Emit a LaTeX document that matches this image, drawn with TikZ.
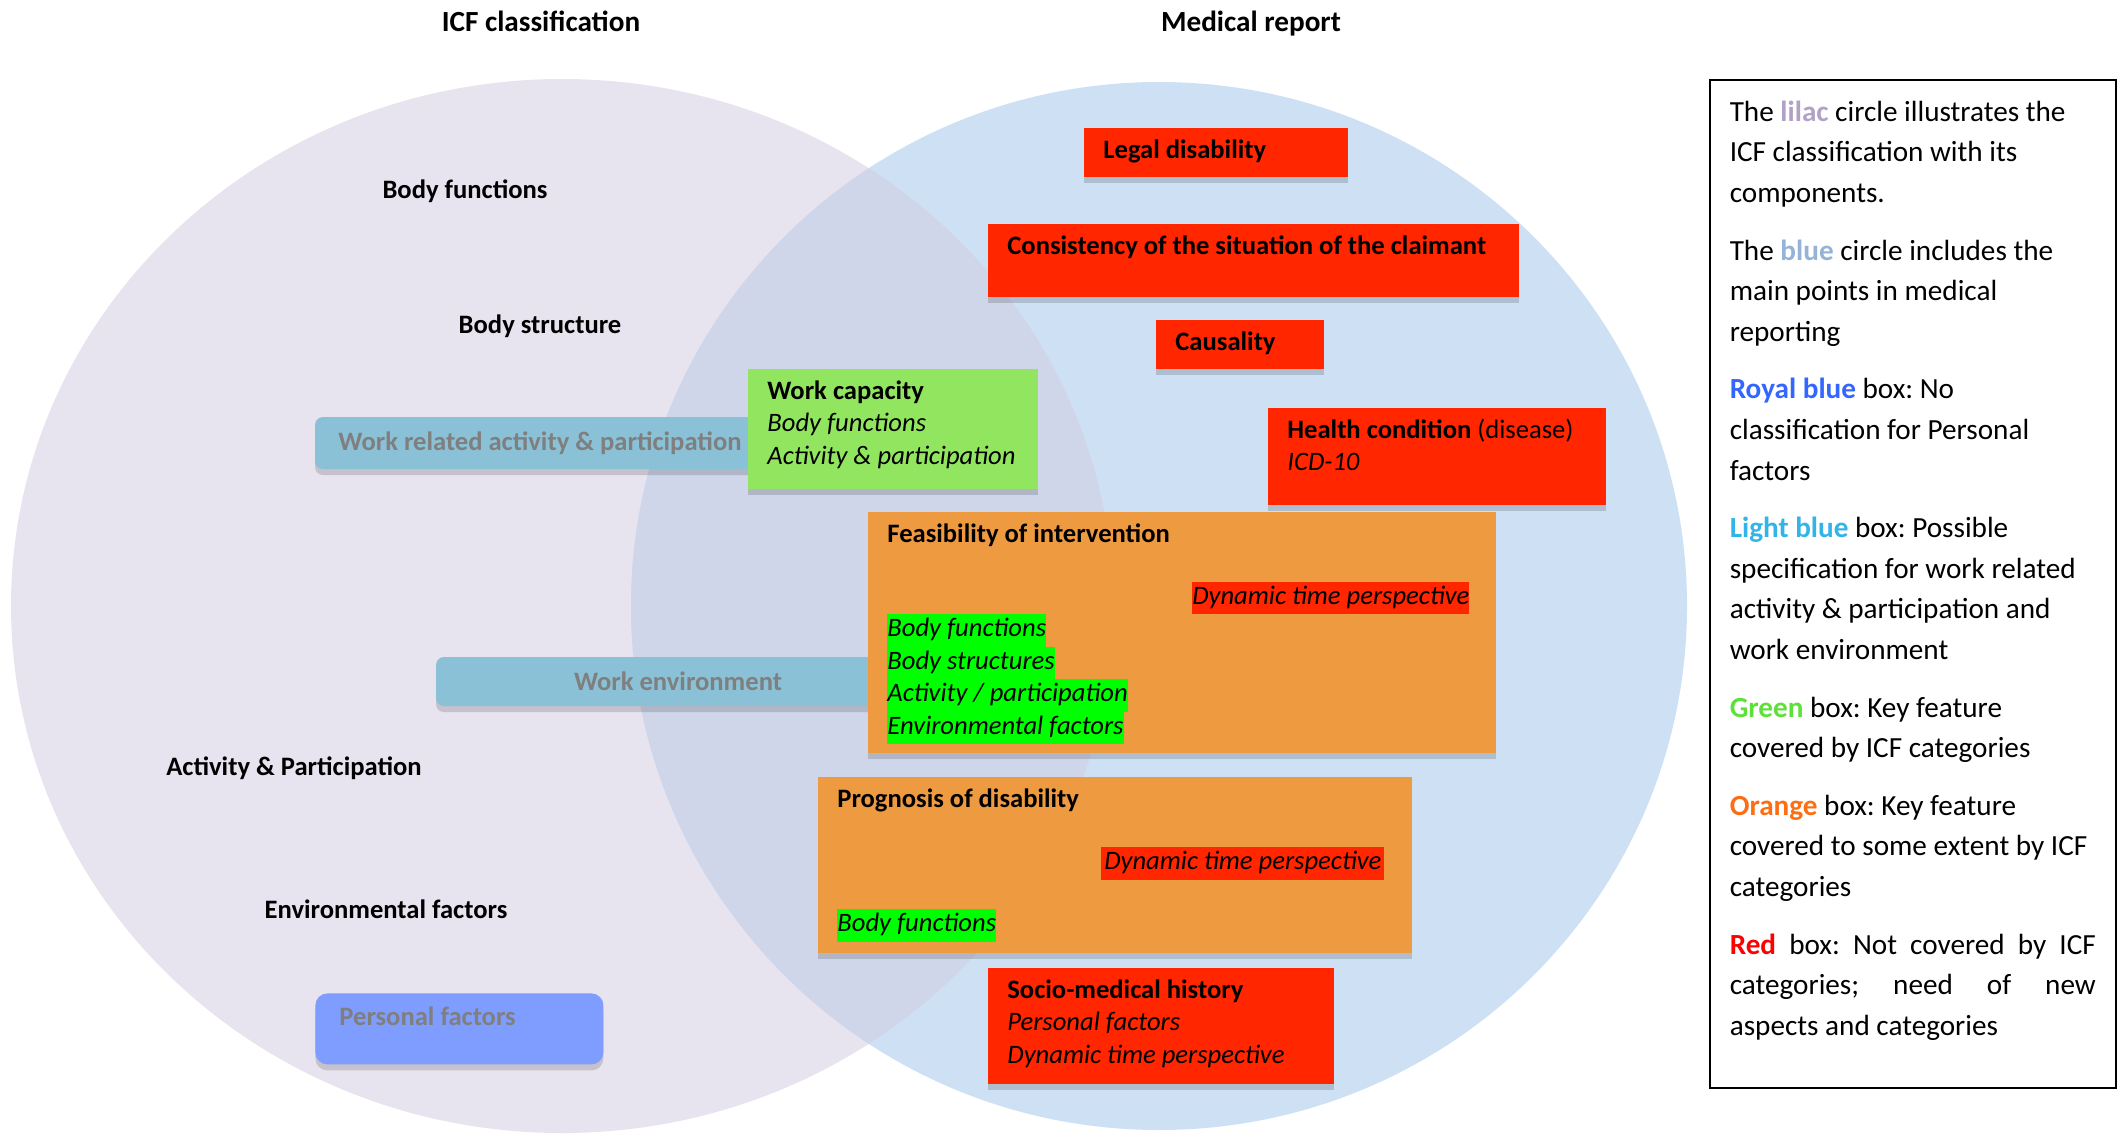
\documentclass[tikz,border=0pt]{standalone}
\usepackage{fontspec}
\setmainfont{Carlito}
\usepackage{xcolor}
\usepackage{tikz}
\usetikzlibrary{positioning,shadows}
\definecolor{clila}{HTML}{E8E4EF}
\definecolor{cazul}{HTML}{CEE0F4}
\definecolor{cmezcla}{HTML}{D0D6EA}
\definecolor{cceleste}{HTML}{8BC1D6}
\definecolor{creal}{HTML}{7F9CFF}
\definecolor{cnaranja}{HTML}{EE9A40}
\definecolor{crojo}{HTML}{FF2600}
\definecolor{cverde}{HTML}{92E65F}
\definecolor{cneon}{HTML}{00FF00}
\definecolor{cgris}{HTML}{7F7F7F}
% legend word colours
\definecolor{tlila}{HTML}{B2A1C7}
\definecolor{tazul}{HTML}{95B3D7}
\definecolor{treal}{HTML}{3366FF}
\definecolor{tceleste}{HTML}{33B4E8}
\definecolor{tverde}{HTML}{5EE03A}
\definecolor{tnaranja}{HTML}{FF6D12}
\definecolor{trojo}{HTML}{FF0000}
\newcommand{\hlrojo}[1]{{\setlength{\fboxsep}{0pt}\colorbox{crojo}{\strut\itshape #1}}}
\newcommand{\hlverde}[1]{{\setlength{\fboxsep}{0pt}\colorbox{cneon}{\strut\itshape #1}}}
\tikzset{
  etq/.style={anchor=base, font=\fontsize{13.3}{16.25}\selectfont\bfseries},
  titulo/.style={anchor=base, font=\fontsize{14.6}{18}\selectfont\bfseries},
  sombra/.style={drop shadow={shadow xshift=0pt, shadow yshift=-3pt, fill=black, opacity=.15}},
  espacios/.style={execute at begin node={\spaceskip=0pt\xspaceskip=0pt}},
  caja/.style={sombra, espacios, anchor=north west, align=left, inner xsep=9.5pt, inner ysep=4pt,
    text height=11pt, font=\fontsize{13.3}{16.25}\selectfont},
  cajar/.style={caja, fill=crojo},
  cajan/.style={caja, fill=cnaranja},
  cajav/.style={caja, fill=cverde},
  cajac/.style={sombra, fill=cceleste, rounded corners=4pt, text=cgris,
    font=\fontsize{13.3}{16.25}\selectfont\bfseries},
}

\begin{document}
\frenchspacing
\begin{tikzpicture}[x=0.5pt, y=-0.5pt]
  \useasboundingbox (0,0) rectangle (2123,1136);
  % the two circles
  \fill[clila] (562,606) ellipse [x radius=275.5pt, y radius=263.5pt];
  \fill[cazul] (1159,606) ellipse [x radius=264pt, y radius=262pt];
  \begin{scope}
    \clip (1159,606) ellipse [x radius=264pt, y radius=262pt];
    \fill[cmezcla] (562,606) ellipse [x radius=275.5pt, y radius=263.5pt];
  \end{scope}

  \node[titulo] (icf) at (541,31) {ICF classification};
  \node[titulo] (med) at (1251,31) {Medical report};

  \node[etq] (bodyf) at (465,198.5) {Body functions};
  \node[etq] (bodys) at (540,333.5) {Body structure};
  \node[etq] (actp) at (294,775.5) {Activity \& Participation};
  \node[etq] (envf) at (386,918.5) {Environmental factors};

  % light blue and royal blue boxes
  \node[cajac, minimum width=225pt, minimum height=26pt] (workact) at (540,443) {Work related activity \& participation};
  \node[cajac, minimum width=242pt, minimum height=24.5pt] (workenv) at (678,681.5) {Work environment};
  \node[cajac, espacios, fill=creal, rounded corners=6pt, anchor=north west, align=left, inner xsep=12pt, inner ysep=6.25pt,
    text height=10pt, text width=120pt, text depth=13pt] (pers) at (315,993) {Personal factors};

  % medical report boxes
  \node[cajar, text width=113pt, text depth=5.5pt] (legal) at (1084,128) {\textbf{Legal disability}};
  \node[cajar, text width=246.5pt, text depth=17.5pt] (consist) at (988,224) {\textbf{Consistency of the situation of the claimant}};
  \node[cajar, text width=65pt, text depth=5.5pt] (causal) at (1156,320) {\textbf{Causality}};
  \node[cajav, text width=126pt, text depth=41pt] (workcap) at (748,369)
    {\textbf{Work capacity}\\\textit{Body functions}\\\textit{Activity \& participation}};
  \node[cajar, text width=150pt, text depth=29.5pt] (health) at (1268,408)
    {\textbf{Health condition} (disease)\\\textit{ICD-10}};
  \node[cajan, text width=295pt, text depth=101.5pt] (feas) at (868,512)
    {\textbf{Feasibility of intervention}\\[14.75pt]
     \hfill\hlrojo{Dynamic time perspective}\hspace*{4pt}\mbox{}\\
     \hlverde{Body functions}\\
     \hlverde{Body structures}\\
     \hlverde{Activity / participation}\\
     \hlverde{Environmental factors}};
  \node[cajan, text width=278pt, text depth=69pt] (prog) at (818,777)
    {\textbf{Prognosis of disability}\\[15pt]
     \hfill\hlrojo{\hspace*{1.5pt}Dynamic time perspective\hspace*{1.5pt}}\hspace*{4.5pt}\mbox{}\\[14.75pt]
     \hlverde{Body functions}};
  \node[cajar, text width=154pt, text depth=39pt] (socio) at (988,968)
    {\textbf{Socio-medical history}\\\textit{Personal factors}\\\textit{Dynamic time perspective}};

  % legend
  \node[draw, espacios, line width=0.75pt, anchor=north west, align=left, inner xsep=10pt, inner ysep=9.75pt,
    text width=183pt, text height=11pt, text depth=473.5pt, font=\fontsize{14.6}{20.3}\selectfont] (leyenda) at (1709,79)
    {The \textbf{\textcolor{tlila}{lilac}} circle illustrates the\\
     ICF classification with its\\
     components.\\[8.5pt]
     The \textbf{\textcolor{tazul}{blue}} circle includes the\\
     main points in medical\\
     reporting\\[8.5pt]
     \textbf{\textcolor{treal}{Royal blue}} box: No\\
     classification for Personal\\
     factors\\[8.5pt]
     \textbf{\textcolor{tceleste}{Light blue}} box: Possible\\
     specification for work related\\
     activity \& participation and\\
     work environment\\[8.5pt]
     \textbf{\textcolor{tverde}{Green}} box: Key feature\\
     covered by ICF categories\\[8.5pt]
     \textbf{\textcolor{tnaranja}{Orange}} box: Key feature\\
     covered to some extent by ICF\\
     categories\\[8.5pt]
     \makebox[183pt][s]{\textbf{\textcolor{trojo}{Red}} box: Not covered by ICF}\\
     \makebox[183pt][s]{categories; need of new}\\
     aspects and categories};
\end{tikzpicture}
\end{document}
